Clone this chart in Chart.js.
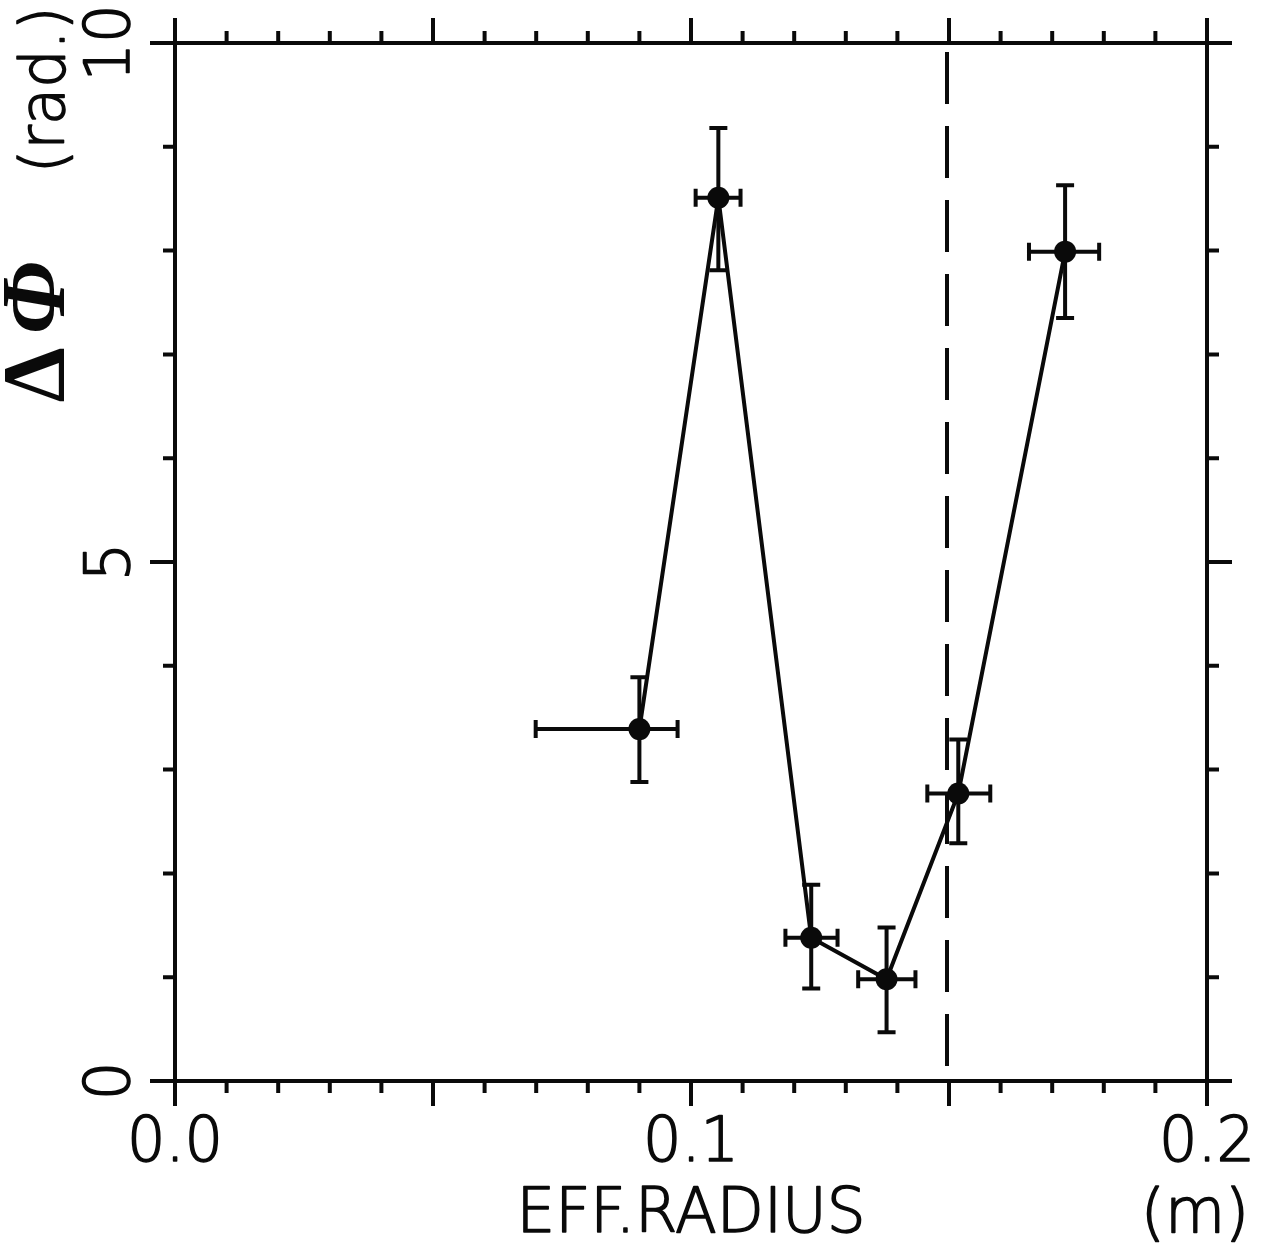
<!DOCTYPE html>
<html>
<head>
<meta charset="utf-8">
<script src="https://cdn.jsdelivr.net/npm/chart.js@4.4.1/dist/chart.umd.min.js"></script>
<style>
  html, body { margin: 0; background: #fff; }
  canvas { display: block; }
</style>
</head>
<body>
<canvas id="myChart" width="1261" height="1252"></canvas>
<script>
(() => {
    "use strict";

    // effective radius (m) and phase jump (rad.) with error bounds
    const radius   = [0.0900, 0.1053, 0.1233, 0.1379, 0.1518, 0.1725];
    const radiusLo = [0.0699, 0.1009, 0.1183, 0.1324, 0.1458, 0.1655];
    const radiusHi = [0.0974, 0.1096, 0.1284, 0.1435, 0.1580, 0.1791];
    const dPhi     = [3.39, 8.51, 1.38, 0.98, 2.77, 7.99];
    const dPhiLo   = [2.88, 7.81, 0.89, 0.47, 2.29, 7.35];
    const dPhiHi   = [3.89, 9.18, 1.89, 1.48, 3.29, 8.63];

    const xTickValues = [0.0, 0.1, 0.2];
    const xTickLabels = ["0.0", "0.1", "0.2"];
    const yTickValues = [0, 5, 10];
    const yTickLabels = ["0", "5", "10"];
    const boundary = 0.15;

    const INK = "#0a0a0a";
    const LABEL_FONT = "200 63px 'DejaVu Sans', sans-serif";
    const LW = 4;

    // thin sans with a light outline so strokes come out ~4px
    function text(ctx, str, x, y, font, rot, sx, outline) {
        ctx.save();
        ctx.translate(x, y);
        if (rot) ctx.rotate(rot);
        if (sx) ctx.scale(sx, 1);
        ctx.font = font;
        ctx.fillStyle = INK;
        ctx.strokeStyle = INK;
        ctx.textAlign = "center";
        ctx.textBaseline = "middle";
        ctx.fillText(str, 0, 0);
        if (outline) {
            ctx.lineWidth = outline;
            ctx.lineJoin = "round";
            ctx.strokeText(str, 0, 0);
        }
        ctx.restore();
    }

    // error bars go under the markers
    const errorBars = {
        id: "errorBars",
        beforeDatasetsDraw(chart) {
            const ctx = chart.ctx;
            const xs = chart.scales.x, ys = chart.scales.y;
            ctx.save();
            ctx.strokeStyle = INK;
            ctx.lineWidth = LW;
            for (let i = 0; i < radius.length; i++) {
                const cx = xs.getPixelForValue(radius[i]);
                const cy = ys.getPixelForValue(dPhi[i]);
                const x0 = xs.getPixelForValue(radiusLo[i]);
                const x1 = xs.getPixelForValue(radiusHi[i]);
                const y0 = ys.getPixelForValue(dPhiLo[i]);
                const y1 = ys.getPixelForValue(dPhiHi[i]);
                ctx.beginPath();
                ctx.moveTo(x0, cy); ctx.lineTo(x1, cy);
                ctx.moveTo(x0, cy - 9); ctx.lineTo(x0, cy + 9);
                ctx.moveTo(x1, cy - 9); ctx.lineTo(x1, cy + 9);
                ctx.moveTo(cx, y0); ctx.lineTo(cx, y1);
                ctx.moveTo(cx - 9, y0); ctx.lineTo(cx + 9, y0);
                ctx.moveTo(cx - 9, y1); ctx.lineTo(cx + 9, y1);
                ctx.stroke();
            }
            // dashed boundary
            const bx = xs.getPixelForValue(boundary);
            ctx.setLineDash([52, 22]);
            ctx.beginPath();
            ctx.moveTo(bx - 2, chart.chartArea.top + 9);
            ctx.lineTo(bx - 2, chart.chartArea.bottom);
            ctx.stroke();
            ctx.restore();
        }
    };

    // box with outward ticks on all four sides, labels and titles
    const frame = {
        id: "frame",
        afterDraw(chart) {
            const ctx = chart.ctx;
            const a = chart.chartArea;
            const xs = chart.scales.x, ys = chart.scales.y;
            ctx.save();
            ctx.strokeStyle = INK;
            ctx.lineWidth = LW;
            ctx.lineCap = "butt";
            ctx.beginPath();
            ctx.rect(a.left, a.top, a.right - a.left, a.bottom - a.top);
            ctx.stroke();

            ctx.beginPath();
            for (let k = 0; k <= 20; k++) {
                const v = k * 0.01;
                const len = k % 5 === 0 ? 25 : 12;
                const px = xs.getPixelForValue(v);
                ctx.moveTo(px, a.top); ctx.lineTo(px, a.top - len);
                ctx.moveTo(px, a.bottom); ctx.lineTo(px, a.bottom + len);
            }
            for (let k = 0; k <= 10; k++) {
                const len = k % 5 === 0 ? 25 : 12;
                const py = ys.getPixelForValue(k);
                ctx.moveTo(a.left, py); ctx.lineTo(a.left - len, py);
                ctx.moveTo(a.right, py); ctx.lineTo(a.right + len, py);
            }
            ctx.stroke();
            ctx.restore();

            xTickValues.forEach((v, i) => {
                text(ctx, xTickLabels[i], xs.getPixelForValue(v), a.bottom + 64, LABEL_FONT, 0, 0.96, 1.6);
            });
            yTickValues.forEach((v, i) => {
                text(ctx, yTickLabels[i], a.left - 62, ys.getPixelForValue(v), LABEL_FONT, -Math.PI / 2, 0.96, 1.6);
            });

            text(ctx, "EFF.RADIUS", (a.left + a.right) / 2, a.bottom + 135, LABEL_FONT, 0, 0.97, 1.6);
            text(ctx, "(m)", a.right - 12, a.bottom + 136, LABEL_FONT, 0, 0.98, 1.6);

            text(ctx, "\u0394", 40, 375, "bold 88px 'Liberation Serif', serif", -Math.PI / 2);
            text(ctx, "\u03A6", 40, 298, "bold italic 92px 'Liberation Serif', serif", -Math.PI / 2);
            text(ctx, "(rad.)", 48, 90, LABEL_FONT, -Math.PI / 2, 0.96, 1.6);
        }
    };

    const ctx = document.getElementById("myChart").getContext("2d");
    // eslint-disable-next-line no-unused-vars
    const myChart = new Chart(ctx, {
        type: "scatter",
        data: {
            datasets: [{
                label: "delta phi",
                data: radius.map((r, i) => ({ x: r, y: dPhi[i] })),
                showLine: true,
                lineTension: 0,
                borderColor: INK,
                borderWidth: LW,
                backgroundColor: INK,
                pointBackgroundColor: INK,
                pointBorderWidth: 0,
                pointRadius: 11
            }]
        },
        options: {
            responsive: false,
            animation: false,
            events: [],
            layout: { padding: { left: 175, top: 43, right: 54, bottom: 171 } },
            plugins: { legend: { display: false }, tooltip: { enabled: false } },
            scales: {
                x: { type: "linear", min: 0, max: 0.2, display: false },
                y: { type: "linear", min: 0, max: 10, display: false }
            }
        },
        plugins: [errorBars, frame]
    });
})();
</script>
</body>
</html>
